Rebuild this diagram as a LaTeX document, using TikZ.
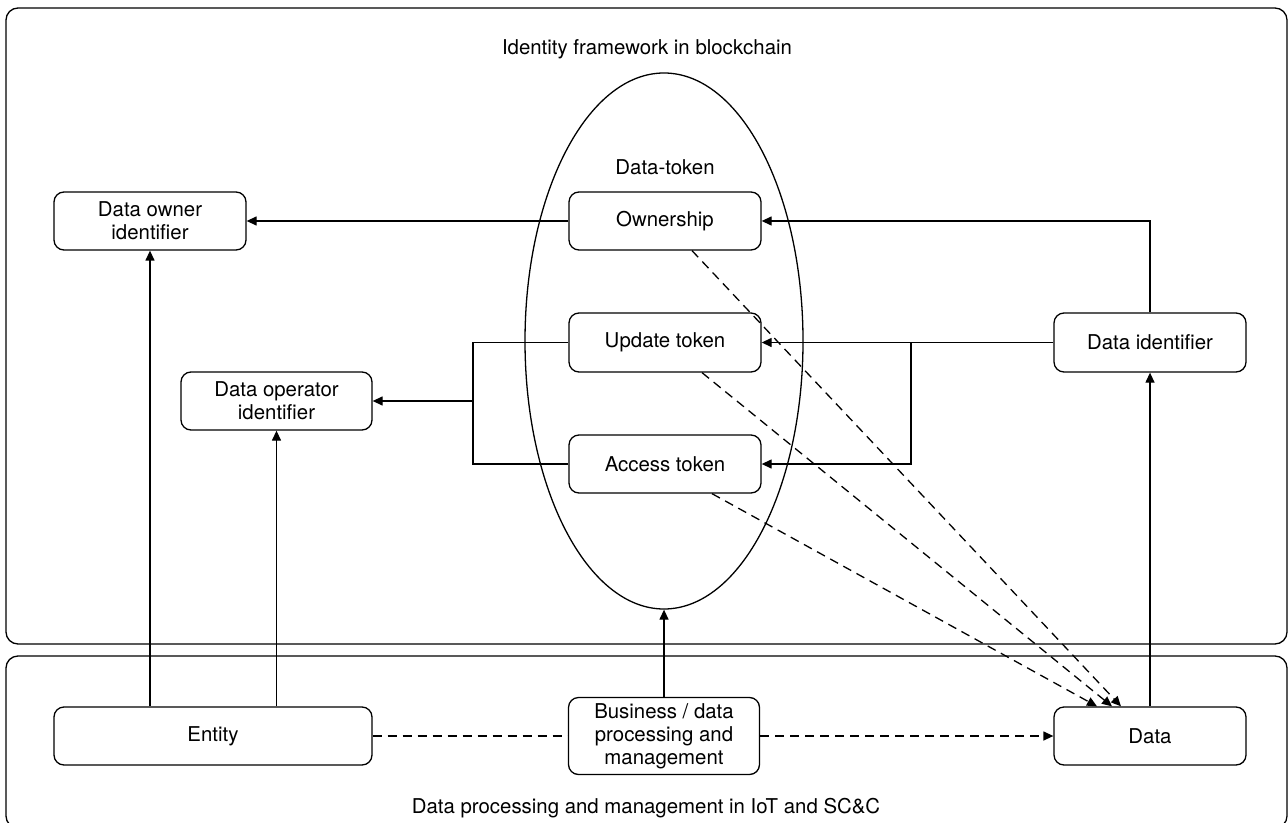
\documentclass[tikz,border=0pt]{standalone}
\usepackage{fontspec}
\setmainfont{TeX Gyre Heros}
\usetikzlibrary{arrows.meta,shapes.geometric,calc}
\begin{document}
\begin{tikzpicture}[x=0.5pt,y=-0.5pt,
  font=\fontsize{10.2}{11.6}\selectfont,
  line width=0.65pt,
  frame/.style={draw, rounded corners=6pt},
  box/.style={draw, rounded corners=5pt, align=center, inner sep=0pt,
              minimum width=96pt, minimum height=29pt},
  arr/.style={-{Triangle[length=5pt,width=4.5pt]}},
  dsh/.style={dash pattern=on 4.5pt off 3pt}]
\useasboundingbox (0,0) rectangle (1288,823);

% the two layers
\draw[frame] (6,8) rectangle (1287,644);
\draw[frame] (6,656) rectangle (1287,828);
\node (toptitle) at (647,49) {Identity framework in blockchain};
\node (bottitle) at (646,808) {Data processing and management in IoT and SC\&C};

% data-token container
\node[draw, ellipse, inner sep=0pt, minimum width=139pt, minimum height=268pt] (tok) at (664,341) {};
\node (toklabel) at (665,167) {Data-token};

% identity layer
\node[box] (downer) at (150,221) {Data owner\\identifier};
\node[box, minimum width=95.5pt] (dop) at (276.5,401) {Data operator\\identifier};
\node[box] (own) at (665,221) {Ownership};
\node[box, minimum height=29.5pt] (upd) at (665,342.5) {Update token};
\node[box] (acc) at (665,464) {Access token};
\node[box, minimum height=29.5pt] (did) at (1150,342.5) {Data identifier};

% processing layer
\node[box, minimum width=159pt] (ent) at (213,736) {Entity};
\node[box, minimum width=95.5pt, minimum height=38.5pt] (biz) at (664,736) {Business / data\\processing and\\management};
\node[box] (dat) at (1150,736) {Data};

% ownership links
\draw[arr] (own.west) -- (downer.east);
\draw[arr] (did.north) |- (own.east);

% token links from the data identifier
\coordinate (jr) at (911,342.5);
\draw[arr] (did.west) -- (upd.east);
\draw[arr] (jr) |- (acc.east);

% token links to the data operator
\coordinate (jlt) at (473,342.5);
\coordinate (jlb) at (473,464);
\coordinate (jl) at (473,401);
\draw (upd.west) -- (jlt) -- (jlb) -- (acc.west);
\draw[arr] (jl) -- (dop.east);

% links up from the processing layer
\draw[arr] (downer.south |- ent.north) -- (downer.south);
\draw[arr] (dop.south |- ent.north) -- (dop.south);
\draw[arr] (biz.north) -- (tok.south);
\draw[arr] (dat.north) -- (did.south);

% data flow
\draw[dsh] (ent.east) -- (biz.west);
\draw[dsh, arr] (biz.east) -- (dat.west);

% tokens bound to the data
\draw[dsh, arr] ($(own.south)+(27,0)$) -- ($(dat.north)+(-29,0)$);
\draw[dsh, arr] ($(upd.south)+(37,0)$) -- ($(dat.north)+(-38,0)$);
\draw[dsh, arr] ($(acc.south)+(47,0)$) -- ($(dat.north)+(-53,0)$);
\end{tikzpicture}
\end{document}
